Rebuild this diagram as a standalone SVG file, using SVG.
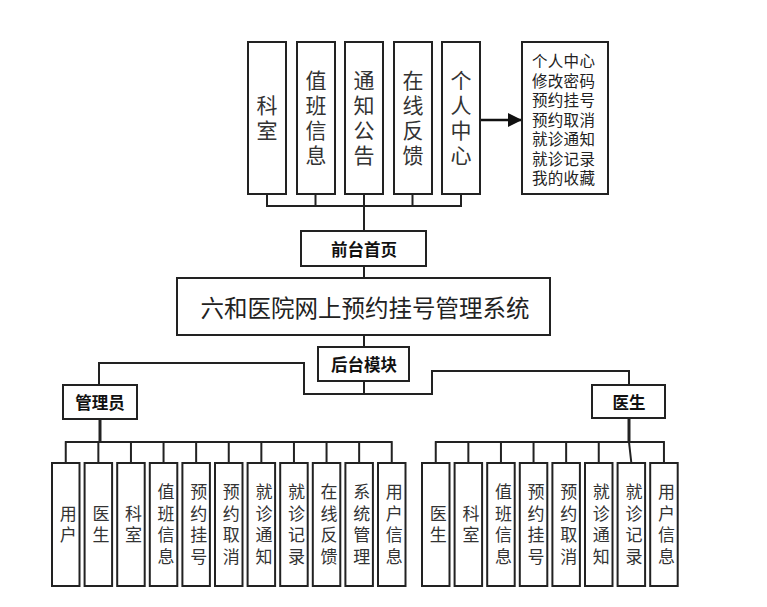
<svg xmlns="http://www.w3.org/2000/svg" width="767" height="607" viewBox="0 0 767 607">
<style>
.box{fill:#fff;stroke:#222;stroke-width:2}
.ln{fill:none;stroke:#222;stroke-width:2}
.v{font-family:"Noto Sans CJK SC","Noto Sans",sans-serif;fill:#333;text-anchor:middle;writing-mode:vertical-rl}
.s{font-size:17px;letter-spacing:4.5px}
.m{font-size:21px;letter-spacing:4px}
.t{font-family:"Noto Sans CJK SC","Noto Sans",sans-serif;fill:#222;text-anchor:middle;dominant-baseline:central}
.b{font-family:"Noto Sans CJK SC",sans-serif;font-weight:bold;fill:#111;text-anchor:middle;dominant-baseline:central;font-size:16.5px}
.l{font-family:"Noto Sans CJK SC",sans-serif;fill:#222;font-size:15.5px;dominant-baseline:central;letter-spacing:0.3px}
</style>
<defs>
<marker id="ah" markerWidth="14" markerHeight="14" refX="14" refY="7" orient="auto" markerUnits="userSpaceOnUse">
<path d="M0,0 L14,7 L0,14 Z" fill="#111"/>
</marker>
</defs>
<rect width="767" height="607" fill="#fff"/>
<g id="connectors">
<path class="ln" d="M267,194V206M315.5,194V206M364,194V206M412.5,194V206M461,194V206M266,206H462"/>
<path class="ln" d="M364,206V231" stroke-width="2.5"/>
<path class="ln" d="M364,266V278M364,335V347M364,381V394"/>
<path class="ln" d="M99,385V363H304V394H432V371H629V385"/>
<path class="ln" d="M100,419V442" style="stroke-width:3"/>
<path class="ln" d="M64.8,442H392.7M65.75,442V463M98.35,442V463M130.95,442V463M163.55,442V463M196.15,442V463M228.75,442V463M261.35,442V463M293.95,442V463M326.55,442V463M359.15,442V463M391.75,442V463"/>
<path class="ln" d="M629,418V442" style="stroke-width:3"/>
<path class="ln" d="M434.8,442H664.9M435.75,442V463M468.35,442V463M500.95,442V463M533.55,442V463M566.15,442V463M598.75,442V463M629,442L631.35,463M663.95,442V463"/>
<line x1="480" y1="120" x2="522" y2="120" stroke="#111" stroke-width="2.5" marker-end="url(#ah)"/>
</g>
<g id="top-keshi"><rect class="box" x="248" y="42" width="38" height="152"/><text class="v m" x="267" y="120">科室</text></g>
<g id="top-zhiban"><rect class="box" x="297" y="42" width="38" height="152"/><text class="v m" x="316" y="120">值班信息</text></g>
<g id="top-tongzhi"><rect class="box" x="345" y="42" width="38" height="152"/><text class="v m" x="364" y="120">通知公告</text></g>
<g id="top-fankui"><rect class="box" x="394" y="42" width="38" height="152"/><text class="v m" x="413" y="120">在线反馈</text></g>
<g id="top-geren"><rect class="box" x="442" y="42" width="38" height="152"/><text class="v m" x="461" y="120">个人中心</text></g>
<g id="geren-list"><rect class="box" x="522" y="42" width="86" height="152"/>
<text class="l"><tspan x="532" y="60">个人中心</tspan><tspan x="532" y="79.5">修改密码</tspan><tspan x="532" y="99">预约挂号</tspan><tspan x="532" y="118.5">预约取消</tspan><tspan x="532" y="138">就诊通知</tspan><tspan x="532" y="157.5">就诊记录</tspan><tspan x="532" y="177">我的收藏</tspan></text></g>
<g id="qiantai"><rect class="box" x="301" y="231" width="125" height="35"/><text class="b" x="364" y="248.5">前台首页</text></g>
<g id="system"><rect class="box" x="177" y="278" width="373" height="57"/><text class="t" style="font-size:23.5px" x="365" y="306.5">六和医院网上预约挂号管理系统</text></g>
<g id="houtai"><rect class="box" x="318" y="347" width="91" height="34"/><text class="b" x="364" y="364">后台模块</text></g>
<g id="admin"><rect class="box" x="63" y="385" width="74" height="34"/><text class="b" x="100" y="402">管理员</text></g>
<g id="doctor"><rect class="box" x="592" y="385" width="73" height="33"/><text class="b" x="629" y="401.5">医生</text></g>
<g id="a1"><rect class="box" x="52" y="463" width="27.5" height="123"/><text class="v s" x="68.3" y="526.5">用户</text></g>
<g id="a2"><rect class="box" x="84.6" y="463" width="27.5" height="123"/><text class="v s" x="100.9" y="526.5">医生</text></g>
<g id="a3"><rect class="box" x="117.2" y="463" width="27.5" height="123"/><text class="v s" x="133.5" y="526.5">科室</text></g>
<g id="a4"><rect class="box" x="149.8" y="463" width="27.5" height="123"/><text class="v s" x="166.1" y="526.5">值班信息</text></g>
<g id="a5"><rect class="box" x="182.4" y="463" width="27.5" height="123"/><text class="v s" x="198.7" y="526.5">预约挂号</text></g>
<g id="a6"><rect class="box" x="215" y="463" width="27.5" height="123"/><text class="v s" x="231.3" y="526.5">预约取消</text></g>
<g id="a7"><rect class="box" x="247.6" y="463" width="27.5" height="123"/><text class="v s" x="263.9" y="526.5">就诊通知</text></g>
<g id="a8"><rect class="box" x="280.2" y="463" width="27.5" height="123"/><text class="v s" x="296.5" y="526.5">就诊记录</text></g>
<g id="a9"><rect class="box" x="312.8" y="463" width="27.5" height="123"/><text class="v s" x="329.1" y="526.5">在线反馈</text></g>
<g id="a10"><rect class="box" x="345.4" y="463" width="27.5" height="123"/><text class="v s" x="361.7" y="526.5">系统管理</text></g>
<g id="a11"><rect class="box" x="378" y="463" width="27.5" height="123"/><text class="v s" x="394.3" y="526.5">用户信息</text></g>
<g id="d1"><rect class="box" x="422" y="463" width="27.5" height="123"/><text class="v s" x="438.3" y="526.5">医生</text></g>
<g id="d2"><rect class="box" x="454.6" y="463" width="27.5" height="123"/><text class="v s" x="470.9" y="526.5">科室</text></g>
<g id="d3"><rect class="box" x="487.2" y="463" width="27.5" height="123"/><text class="v s" x="503.5" y="526.5">值班信息</text></g>
<g id="d4"><rect class="box" x="519.8" y="463" width="27.5" height="123"/><text class="v s" x="536.1" y="526.5">预约挂号</text></g>
<g id="d5"><rect class="box" x="552.4" y="463" width="27.5" height="123"/><text class="v s" x="568.7" y="526.5">预约取消</text></g>
<g id="d6"><rect class="box" x="585" y="463" width="27.5" height="123"/><text class="v s" x="601.3" y="526.5">就诊通知</text></g>
<g id="d7"><rect class="box" x="617.6" y="463" width="27.5" height="123"/><text class="v s" x="633.9" y="526.5">就诊记录</text></g>
<g id="d8"><rect class="box" x="650.2" y="463" width="27.5" height="123"/><text class="v s" x="666.5" y="526.5">用户信息</text></g>
</svg>
